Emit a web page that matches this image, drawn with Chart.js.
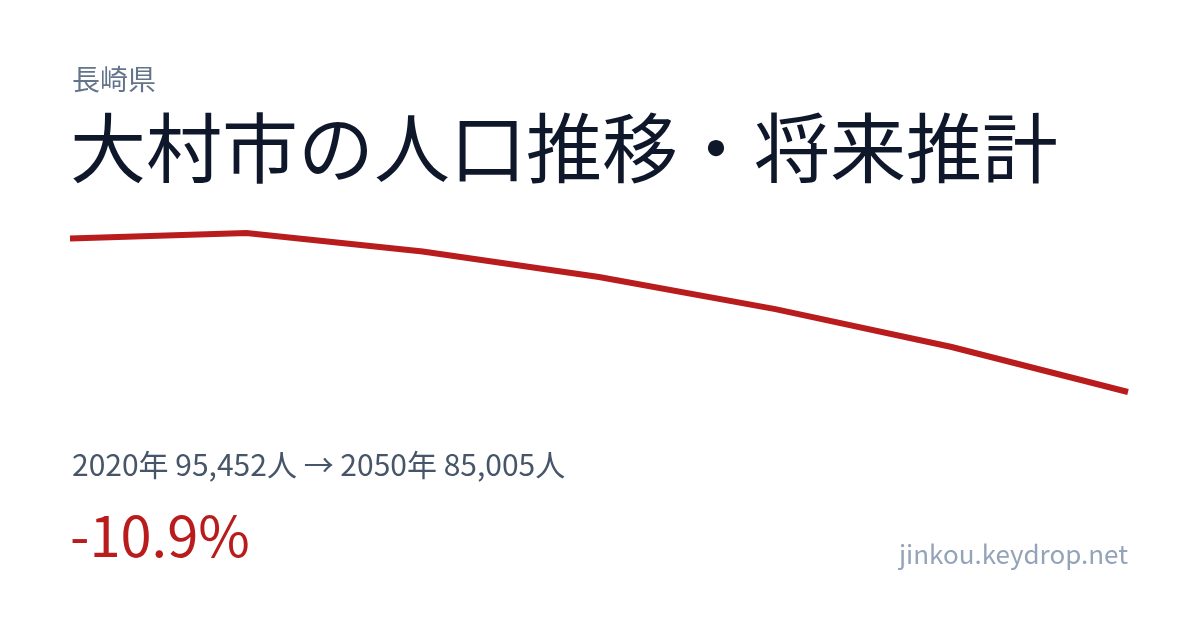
<!DOCTYPE html>
<html lang="ja">
<head>
<meta charset="utf-8">
<title>大村市の人口推移・将来推計</title>
<script src="https://cdn.jsdelivr.net/npm/chart.js@4"></script>
<style>
  html, body { margin: 0; padding: 0; background: #fff; }
  body { width: 1200px; height: 630px; position: relative; overflow: hidden; font-family: "Noto Sans CJK JP", "Noto Sans", sans-serif; }
  #canva { position: absolute; left: 0; top: 0; }
  .t { position: absolute; line-height: 1; white-space: nowrap; margin: 0; }
  #pref { left: 72px; top: 64px; font-size: 28px; color: #64748b; }
  #title { left: 70px; top: 106px; font-size: 76px; color: #0f172a; font-weight: 400; }
  #stats { left: 72px; top: 448px; font-size: 30px; color: #475569; }
  #rate { left: 70px; top: 505px; font-size: 56px; color: #b91c1c; }
  #site { right: 72px; top: 540px; font-size: 26px; color: #94a3b8; }
</style>
</head>
<body>
<canvas id="canva" width="1200" height="630"></canvas>
<div class="t" id="pref">長崎県</div>
<h1 class="t" id="title">大村市の人口推移・将来推計</h1>
<div class="t" id="stats">2020年 95,452人 → 2050年 85,005人</div>
<div class="t" id="rate">-10.9%</div>
<div class="t" id="site">jinkou.keydrop.net</div>
<script>
const years = ["2020", "2025", "2030", "2035", "2040", "2045", "2050"];
const population = [95452, 95830, 94570, 92830, 90650, 88070, 85005];

const data = {
  labels: years,
  datasets: [
    {
      label: "人口",
      data: population,
      borderColor: "#b91c1c",
      borderWidth: 6,
      borderCapStyle: "butt",
      borderJoinStyle: "miter",
      pointRadius: 0,
      tension: 0,
      fill: false,
      clip: false,
    },
  ],
};

const config = {
  type: "line",
  data: data,
  options: {
    responsive: false,
    devicePixelRatio: 1,
    animation: false,
    layout: {
      padding: { left: 70, right: 72, top: 233, bottom: 238 },
    },
    scales: {
      x: { display: false, offset: false },
      y: {
        display: false,
        min: Math.min(...population),
        max: Math.max(...population),
      },
    },
    plugins: {
      legend: { display: false },
      tooltip: { enabled: false },
    },
  },
};
const myChart = new Chart(document.getElementById("canva"), config);
</script>
</body>
</html>
